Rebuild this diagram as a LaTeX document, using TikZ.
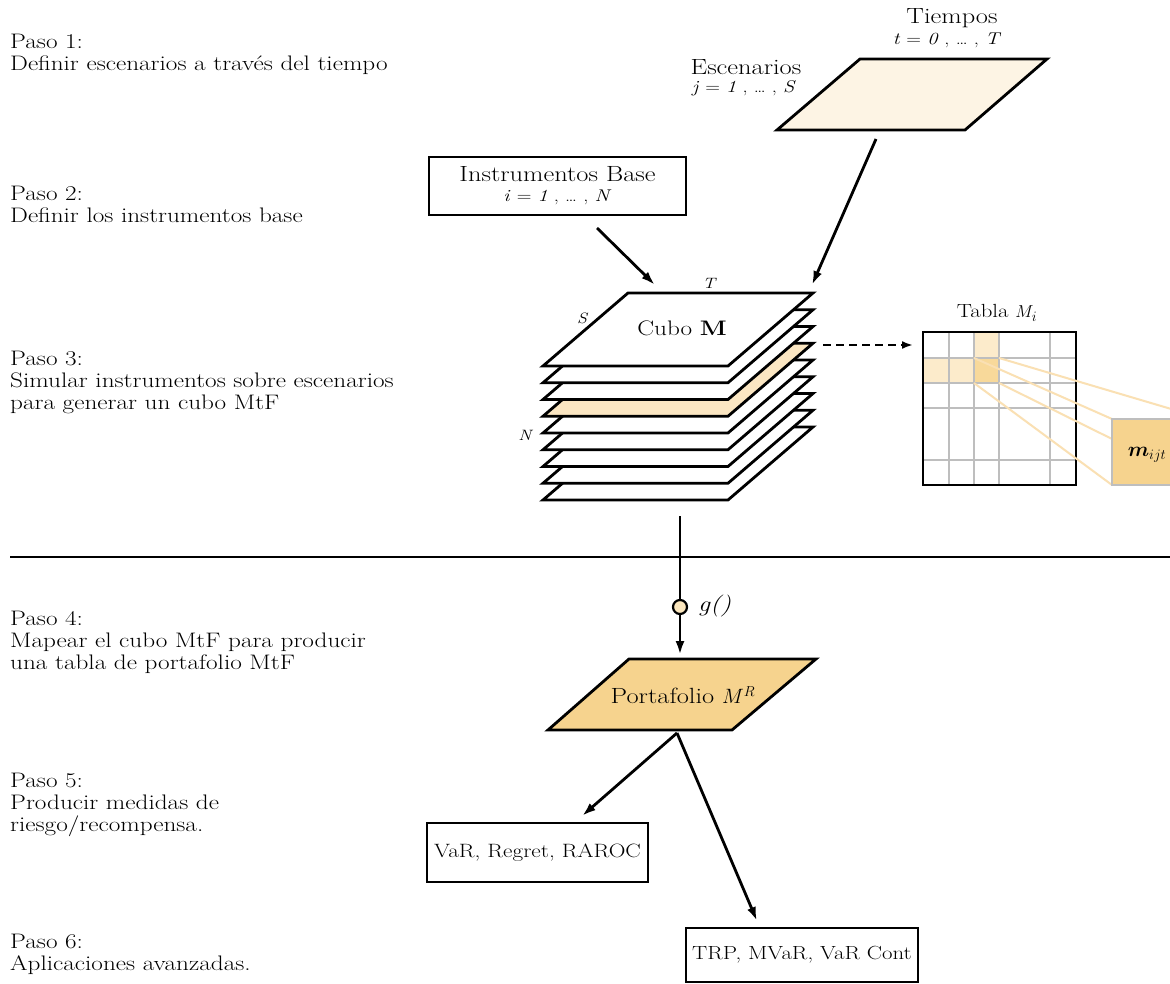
\documentclass[tikz,border=0pt]{standalone}
\usepackage{amsmath}
\usepackage{fontspec}
\setmainfont{Latin Modern Roman}[FakeStretch=1.2]
\usetikzlibrary{arrows.meta}

\definecolor{paper}{HTML}{FDF4E4}
\definecolor{slice}{HTML}{FBE6C2}
\definecolor{gold}{HTML}{F6D38E}
\definecolor{cellpale}{HTML}{FCEBCB}
\definecolor{celldeep}{HTML}{F8D99A}
\definecolor{gridgray}{HTML}{BEBEBE}
\definecolor{ray}{HTML}{FAE0B3}
\definecolor{knob}{HTML}{FBE6BD}

\newcommand{\fsz}[1]{\fontsize{#1}{#1}\selectfont}

\begin{document}
\begin{tikzpicture}[x=1pt,y=-1pt,
  every node/.style={inner sep=0pt},
  steptext/.style={anchor=west,align=left,font=\fontsize{21}{22}\selectfont},
  plain/.style={font=\fsz{22}},
  idx/.style={font=\fsz{17}},
  tiny/.style={font=\fsz{15}\itshape},
  box/.style={draw,line width=2.8pt,align=center},
  outline/.style={line width=2.8pt,line join=miter},
  edge/.style={line width=2.8pt,-{Latex[length=14pt,width=9pt]}},
  dashedge/.style={line width=2.8pt,dash pattern=on 8pt off 5pt,-{Latex[length=11pt,width=8pt]}},
  gridline/.style={gridgray,line width=2.4pt},
  rayline/.style={ray,line width=2pt}
]
\clip (0,0) rectangle (1170,984);
\fill[white] (0,0) rectangle (1170,984);

% ---------- step descriptions ----------
\node[steptext] (p1) at (10,54)  {Paso 1:\\Definir escenarios a través del tiempo};
\node[steptext] (p2) at (10,204) {Paso 2:\\Definir los instrumentos base};
\node[steptext] (p3) at (10,382) {Paso 3:\\Simular instrumentos sobre escenarios\\para generar un cubo MtF};
\node[steptext] (p4) at (10,642) {Paso 4:\\Mapear el cubo MtF para producir\\una tabla de portafolio MtF};
\node[steptext] (p5) at (10,805) {Paso 5:\\Producir medidas de\\riesgo/recompensa.};
\node[steptext] (p6) at (10,954) {Paso 6:\\Aplicaciones avanzadas.};

% ---------- separator ----------
\coordinate (sepL) at (10,557);
\coordinate (sepR) at (1170,557);
\draw[line width=2.8pt] (sepL) -- (sepR);

% ---------- scenario / time plane ----------
\filldraw[outline,fill=paper] (860,59) -- (1047,59) -- (965,130) -- (777,130) -- cycle;
\coordinate (planeOut) at (876,139);
\node[plain] (tiempos) at (952,18) {Tiempos};
\node[idx] (tidx) at (947,40) {\textit{t} = \textit{0} , \dots{} , \textit{T}};
\node[plain] (escen) at (746,67) {Escenarios};
\node[idx] (jidx) at (744,88) {\textit{j} = \textit{1} , \dots{} , \textit{S}};

% ---------- base instruments ----------
\node[box,minimum width=257pt,minimum height=58pt,font=\fsz{22}] (inst) at (557.5,186)
  {Instrumentos Base\\[-2pt]{\fsz{17}\textit{i} = \textit{1} , \dots{} , \textit{N}}};

% ---------- cube of slices ----------
\foreach \k in {8,7,...,0}{
  \ifnum\k=3 \def\lf{slice}\else\def\lf{white}\fi
  \filldraw[outline,fill=\lf] (628,{293+16.75*\k}) -- (813,{293+16.75*\k})
    -- (728,{366+16.75*\k}) -- (543,{366+16.75*\k}) -- cycle;
}
\node[font=\fsz{21}] (cubo) at (682,328) {Cubo \textbf{M}};
\node[tiny] (lT) at (709,283) {T};
\node[tiny] (lS) at (582,318) {S};
\node[tiny] (lN) at (525,435) {N};
\coordinate (cubeInL) at (655,285);
\coordinate (cubeInR) at (812,285);
\coordinate (sliceOut) at (823,345);
\coordinate (cubeOut) at (680,516);
\coordinate (instOut) at (597,228);

\draw[edge] (instOut) -- (cubeInL);
\draw[edge] (planeOut) -- (cubeInR);

% ---------- table M_i ----------
\fill[cellpale] (974,332) rectangle (999,358);
\fill[cellpale] (923,358) rectangle (974,383);
\fill[celldeep] (974,358) rectangle (999,383);
\foreach \x in {949,974,999,1050} \draw[gridline] (\x,332) -- (\x,485);
\foreach \y in {358,383,408,460} \draw[gridline] (923,\y) -- (1076,\y);
\draw[line width=2.8pt] (923,332) rectangle (1076,485);
\node[font=\fsz{19}] (tabla) at (997,313) {Tabla $M_i$};
\coordinate (tableIn) at (913,345);
\draw[dashedge] (sliceOut) -- (tableIn);

% ---------- single entry m_ijt ----------
\draw[rayline] (974,358) -- (1112,419);
\draw[rayline] (999,358) -- (1205,419);
\draw[rayline] (974,383) -- (1112,485);
\draw[rayline] (999,383) -- (1205,485);
\filldraw[fill=gold,draw=gridgray,line width=2.4pt] (1112,419) rectangle (1205,485);
\node[font=\fsz{21}] (mijt) at (1147,455) {$\boldsymbol{m}_{ijt}$};

% ---------- mapping g() ----------
\coordinate (portIn) at (680,655);
\draw[edge] (cubeOut) -- (portIn);
\node[circle,draw,line width=2.2pt,fill=knob,minimum size=14pt] (gmap) at (680,607) {};
\node[font=\fsz{22}\itshape,anchor=west] (glabel) at (698,606) {g()};

% ---------- portfolio ----------
\filldraw[outline,fill=gold] (629,659) -- (816,659) -- (732,730) -- (548,730) -- cycle;
\node[plain] (port) at (683,695) {Portafolio $M^R$};
\coordinate (portOut) at (677,733);
\coordinate (riskIn) at (582,816);
\coordinate (advIn) at (757,921);

% ---------- risk measures ----------
\node[box,minimum width=221pt,minimum height=59pt,font=\fsz{19.3}] (risk) at (537.5,852.5) {VaR, Regret, RAROC};
\node[box,minimum width=232pt,minimum height=54pt,font=\fsz{19}] (adv) at (802,955) {TRP, MVaR, VaR Cont};
\draw[edge] (portOut) -- (riskIn);
\draw[edge] (portOut) -- (advIn);
\end{tikzpicture}
\end{document}
